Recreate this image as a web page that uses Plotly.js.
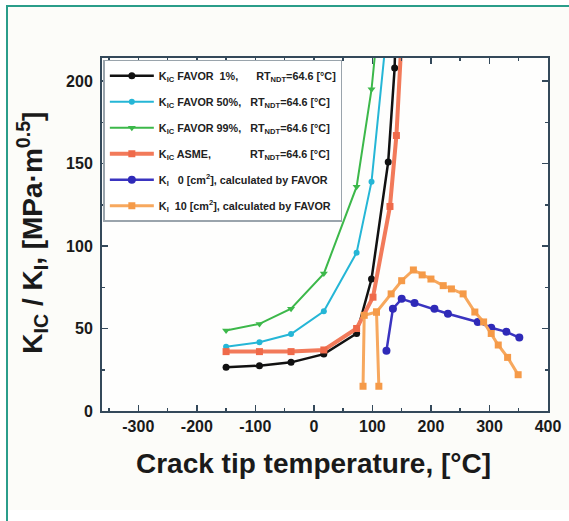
<!DOCTYPE html>
<html>
<head>
<meta charset="utf-8">
<script src="https://cdn.plot.ly/plotly-3.0.1.min.js"></script>
<style>
  html, body { margin: 0; padding: 0; background: #ffffff; width: 569px; height: 521px; overflow: hidden; }
  #frame { position: absolute; left: 6px; top: 5px; width: 563px; height: 516px;
           border-left: 2px solid #2a9d8a; border-top: 2px solid #2a9d8a; overflow: hidden; background: #ffffff; }
  #chart { position: absolute; left: 0; top: 0; width: 561px; height: 503px; }
</style>
</head>
<body>
<div id="frame"><div id="chart"></div></div>
<script>
// ---- data ----
const fav1X  = [-150, -93, -39, 17, 73, 98.5, 127, 138, 150];
const fav1Y  = [26.5, 27.5, 29.5, 34.5, 47, 80, 151, 208, 400];
const fav50X = [-150, -93, -39, 17, 73, 98.5, 125];
const fav50Y = [39, 41.7, 46.7, 60.5, 96, 139, 232];
const fav99X = [-150, -93, -39, 17, 73, 98.5, 125];
const fav99Y = [48.8, 52.8, 62, 83.3, 136, 195, 290];
const asmeX  = [-150, -93, -39, 17, 73, 101, 130, 141, 152];
const asmeY  = [36, 36, 36, 37, 50, 69, 124, 167, 240];
const ki0X   = [124, 135, 150, 172, 206, 229, 280, 303, 329, 351];
const ki0Y   = [36.6, 62, 68, 65.5, 62, 59, 54, 50.5, 48, 44.5];
const ki10X  = [349, 331, 315, 303, 290, 275, 255, 235, 221, 200, 185, 170, 150, 132, 107, 111, 107, 86, 84];
const ki10Y  = [22, 32.5, 40, 47, 54, 60, 71, 74, 76, 80, 82.5, 85.5, 79, 71, 60, 15, 60, 58, 15];

const xTickVals = [-300, -200, -100, 0, 100, 200, 300, 400];
const xTickText = ['-300', '-200', '-100', '0', '100', '200', '300', '400'];
const yTickVals = [0, 50, 100, 150, 200];
const yTickText = ['0', '50', '100', '150', '200'];

const xTitle = 'Crack tip temperature, [°C]';
const yTitle = 'K<sub>IC</sub> / K<sub>I</sub>, [MPa·m<sup>0.5</sup>]';

const names = [
  "K<sub>IC</sub> FAVOR  1%,\u00A0\u00A0\u00A0\u00A0\u00A0 RT<sub>NDT</sub>=64.6 [°C]",
  "K<sub>IC</sub> FAVOR 50%,\u00A0\u00A0 RT<sub>NDT</sub>=64.6 [°C]",
  "K<sub>IC</sub> FAVOR 99%,\u00A0\u00A0 RT<sub>NDT</sub>=64.6 [°C]",
  "K<sub>IC</sub> ASME,\u00A0\u00A0\u00A0\u00A0\u00A0\u00A0\u00A0\u00A0\u00A0\u00A0\u00A0\u00A0 RT<sub>NDT</sub>=64.6 [°C]",
  "K<sub>I</sub>\u00A0\u00A0 0 [cm<sup>2</sup>], calculated by FAVOR",
  "K<sub>I</sub>\u00A0 10 [cm<sup>2</sup>], calculated by FAVOR"
];

const traces = [
  {x: fav1X, y: fav1Y, name: names[0], legendgroup: 'a', mode: 'lines+markers',
   line: {color: '#111111', width: 2.5}, marker: {symbol: 'circle', size: 7, color: '#111111'}},
  {x: fav50X, y: fav50Y, name: names[1], legendgroup: 'b', mode: 'lines+markers',
   line: {color: '#25b6d6', width: 2}, marker: {symbol: 'circle', size: 6, color: '#25b6d6'}},
  {x: fav99X, y: fav99Y, name: names[2], legendgroup: 'c', mode: 'lines+markers',
   line: {color: '#3cb84a', width: 2}, marker: {symbol: 'triangle-down', size: 7, color: '#3cb84a'}},
  {x: asmeX, y: asmeY, name: names[3], legendgroup: 'd', mode: 'lines+markers',
   line: {color: '#f27a5a', width: 4}, marker: {symbol: 'square', size: 7, color: '#ef6a4a'}},
  {x: ki0X, y: ki0Y, name: names[4], legendgroup: 'e', mode: 'lines+markers',
   line: {color: '#3a34c0', width: 2.5}, marker: {symbol: 'circle', size: 8, color: '#2f2ab8'}},
  {x: ki10X, y: ki10Y, name: names[5], legendgroup: 'f', mode: 'lines+markers',
   line: {color: '#f7a85e', width: 3}, marker: {symbol: 'square', size: 7, color: '#f59a48'}}
];

const FONT = 'Liberation Sans, Arial, sans-serif';
const axisCommon = {
  showgrid: false, zeroline: false, showline: true, linecolor: '#34495a', linewidth: 2,
  mirror: 'ticks', ticks: 'inside', ticklen: 6, tickwidth: 1.5, tickcolor: '#34495a',
  tickfont: {family: FONT, size: 16, color: '#1a1a1a', weight: 'bold'}
};

const layout = {
  width: 561, height: 503,
  margin: {l: 94, r: 21, t: 51, b: 99},
  paper_bgcolor: '#fcfcf9', plot_bgcolor: '#fefefd',
  showlegend: true,
  legend: {x: 0.003, y: 0.995, xanchor: 'left', yanchor: 'top',
           bgcolor: '#ffffff', bordercolor: '#9aa4ac', borderwidth: 1.5,
           font: {family: FONT, size: 10.8, color: '#222', weight: 'bold'},
           tracegroupgap: 7, itemwidth: 44},
  xaxis: Object.assign({}, axisCommon, {
    range: [-362, 400], tickmode: 'array', tickvals: xTickVals, ticktext: xTickText,
    minor: {dtick: 50, tick0: 0, ticks: 'inside', ticklen: 3, tickcolor: '#34495a', showgrid: false}
  }),
  yaxis: Object.assign({}, axisCommon, {
    range: [0, 214], tickmode: 'array', tickvals: yTickVals, ticktext: yTickText,
    ticklabelstandoff: 4,
    minor: {dtick: 25, tick0: 0, ticks: 'inside', ticklen: 3, tickcolor: '#34495a', showgrid: false}
  }),
  annotations: [
    {text: xTitle, xref: 'paper', yref: 'paper', x: 0.475, y: -0.148, xanchor: 'center', yanchor: 'middle',
     showarrow: false, font: {family: FONT, size: 28, color: '#1a1a1a', weight: 'bold'}},
    {text: yTitle, xref: 'paper', yref: 'paper', x: -0.157, y: 0.505, xanchor: 'center', yanchor: 'middle',
     textangle: -90, showarrow: false, font: {family: FONT, size: 28, color: '#1a1a1a', weight: 'bold'}}
  ]
};

Plotly.newPlot('chart', traces, layout, {displayModeBar: false, staticPlot: true});
</script>
</body>
</html>
